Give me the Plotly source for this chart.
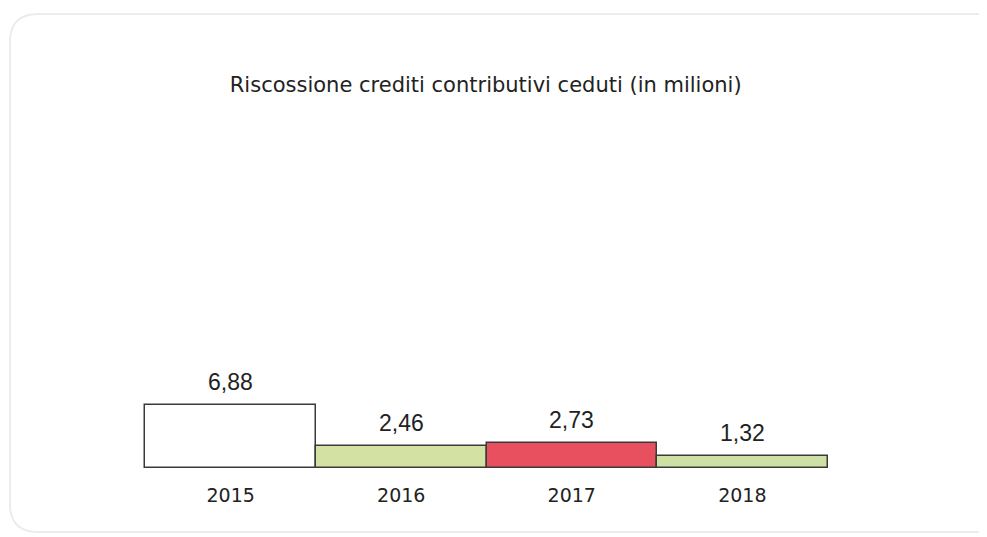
import plotly.graph_objects as go

years = ["2015", "2016", "2017", "2018"]
values = [6.88, 2.46, 2.73, 1.32]
labels = ["6,88", "2,46", "2,73", "1,32"]
bar_colors = ["#ffffff", "#d3e2a2", "#e8505f", "#cfe0a4"]
title_text = "Riscossione crediti contributivi ceduti (in milioni)"

fig = go.Figure()
fig.add_trace(go.Bar(
    x=years, y=values,
    marker=dict(color=bar_colors, line=dict(color="#3a3a3a", width=1.5)),
    cliponaxis=False,
    hoverinfo="skip",
))

# on a category axis numeric-looking strings are read as indices, so place labels by index
for i, (v, lab) in enumerate(zip(values, labels)):
    fig.add_annotation(xref="x", yref="y", x=i, y=v, text=lab, showarrow=False,
                       yanchor="bottom", yshift=8,
                       font=dict(family="Liberation Sans, Arial", size=23, color="#222222"))

W, H = 987, 537
l, r, t, b = 134, 164, 122, 74

fig.update_layout(
    width=W, height=H,
    margin=dict(l=l, r=r, t=t, b=b),
    paper_bgcolor="#ffffff", plot_bgcolor="rgba(0,0,0,0)",
    bargap=0, showlegend=False,
    title=dict(text=title_text, x=0.484, xanchor="center", y=0.857, yanchor="middle",
               font=dict(family="DejaVu Sans, Verdana", size=21, color="#222222")),
    xaxis=dict(type="category", range=[-0.52, len(years) - 0.48],
               showgrid=False, zeroline=False, showline=False,
               ticks="outside", ticklen=7, tickcolor="rgba(0,0,0,0)",
               tickfont=dict(family="DejaVu Sans, Verdana", size=19, color="#222222")),
    yaxis=dict(range=[-0.3, 36.9], visible=False),
)

# faint rounded card border (pixel positions converted to paper coordinates)
pw, ph = W - l - r, H - t - b
def px(xp):
    return (xp - l) / pw
def py(yp):
    return (H - b - yp) / ph
x0, x1, y0, y1, rad = 2, 972, 6, 524, 28
path = (f"M {px(x0+rad):.4f},{py(y0):.4f} L {px(x1):.4f},{py(y0):.4f} L {px(x1):.4f},{py(y1):.4f} "
        f"L {px(x0+rad):.4f},{py(y1):.4f} Q {px(x0):.4f},{py(y1):.4f} {px(x0):.4f},{py(y1-rad):.4f} "
        f"L {px(x0):.4f},{py(y0+rad):.4f} Q {px(x0):.4f},{py(y0):.4f} {px(x0+rad):.4f},{py(y0):.4f} Z")
fig.update_layout(shapes=[dict(type="path", xref="paper", yref="paper", path=path,
                               line=dict(color="#ececf0", width=2), layer="below")])

fig.write_html("out.html")
